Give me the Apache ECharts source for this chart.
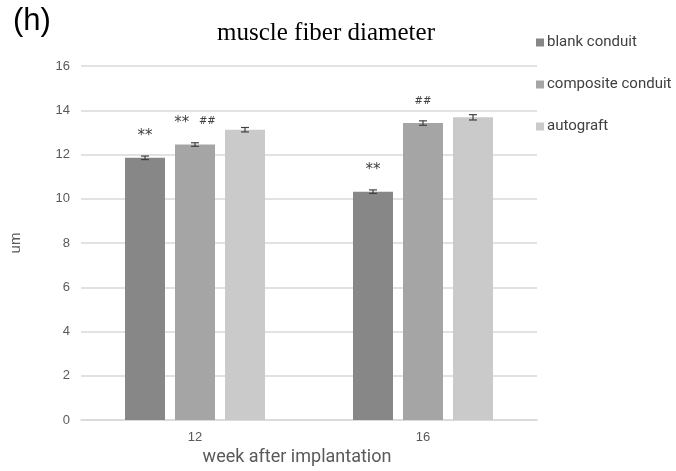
<!DOCTYPE html>
<html>
<head>
<meta charset="utf-8">
<script src="https://cdn.jsdelivr.net/npm/echarts@6/dist/echarts.min.js"></script>
<style>
  html, body { margin: 0; padding: 0; background: #fff; }
  #chart { width: 676px; height: 471px; }
</style>
</head>
<body>
<div id="chart"></div>
<script>
let weeks = ['12', '16'];
let series_names = ['blank conduit', 'composite conduit', 'autograft'];
let blank_values = [11.85, 10.32];
let composite_values = [12.45, 13.42];
let autograft_values = [13.12, 13.68];
let blank_errors = [0.08, 0.08];
let composite_errors = [0.08, 0.1];
let autograft_errors = [0.1, 0.12];
let blank_marks = ['**', '**'];
let composite_marks = ['**  {s|##}', '{s|##}'];
let autograft_marks = ['', ''];

let colors = ['#878787', '#a5a5a5', '#cacaca'];
let bar_width = 40;
let bar_gap = 10;

let chart = echarts.init(document.getElementById('chart'));

function bar_series(name, values, marks) {
    return {
        name: name,
        type: 'bar',
        barWidth: bar_width,
        barGap: '25%',
        data: values,
        label: {
            show: true,
            position: 'top',
            distance: 14,
            color: '#404040',
            fontSize: 15,
            fontFamily: 'DejaVu Sans',
            formatter: function (p) { return marks[p.dataIndex]; },
            rich: { s: { fontSize: 10, color: '#404040', fontFamily: 'DejaVu Sans', padding: [0, 0, 3, 0] } }
        },
        z: 2
    };
}

function error_series(index, values, errors) {
    return {
        type: 'custom',
        name: series_names[index] + ' error',
        data: values.map(function (v, i) { return [i, v, errors[i]]; }),
        renderItem: function (params, api) {
            let ci = api.value(0);
            let v = api.value(1);
            let e = api.value(2);
            let offset = (index - 1) * (bar_width + bar_gap);
            let hi = api.coord([ci, v + e]);
            let lo = api.coord([ci, v - e]);
            let x = hi[0] + offset;
            let style = { stroke: '#404040', lineWidth: 1.2 };
            return {
                type: 'group',
                children: [
                    { type: 'line', shape: { x1: x, y1: hi[1], x2: x, y2: lo[1] }, style: style },
                    { type: 'line', shape: { x1: x - 4, y1: hi[1], x2: x + 4, y2: hi[1] }, style: style },
                    { type: 'line', shape: { x1: x - 4, y1: lo[1], x2: x + 4, y2: lo[1] }, style: style }
                ]
            };
        },
        z: 3,
        silent: true
    };
}

let options = {
    animation: false,
    color: colors,
    title: [
        {
            text: 'muscle fiber diameter',
            left: 321,
            top: 16,
            textAlign: 'center',
            textStyle: { fontFamily: 'Liberation Serif', fontSize: 25, fontWeight: 'normal', color: '#000' }
        },
        {
            text: '(h)',
            left: 8,
            top: 1,
            textStyle: { fontFamily: 'Liberation Sans', fontSize: 31, fontWeight: 'normal', color: '#000' }
        }
    ],
    legend: {
        data: series_names,
        orient: 'vertical',
        left: 531,
        top: 30,
        itemWidth: 8,
        itemHeight: 8,
        itemGap: 27,
        icon: 'rect',
        textStyle: { fontSize: 15, color: '#404040', fontFamily: 'Roboto', padding: [0, 0, 0, -2] }
    },
    grid: {
        left: 81,
        right: 139,
        top: 66,
        bottom: 51,
        outerBoundsMode: 'none',
        containLabel: false
    },
    xAxis: {
        type: 'category',
        data: weeks,
        name: 'week after implantation',
        nameLocation: 'middle',
        nameGap: 28,
        nameTextStyle: { fontSize: 18, color: '#595959', fontFamily: 'Roboto', padding: [0, 24, 0, 0] },
        axisLine: { lineStyle: { color: '#d9d9d9', width: 1.5 } },
        axisTick: { show: false },
        axisLabel: { color: '#595959', fontSize: 13, margin: 11 }
    },
    yAxis: {
        type: 'value',
        min: 0,
        max: 16,
        interval: 2,
        name: 'um',
        nameLocation: 'middle',
        nameGap: 58,
        nameRotate: 90,
        nameTextStyle: { fontSize: 15, color: '#595959' },
        axisLabel: { color: '#595959', fontSize: 13, margin: 11 },
        splitLine: { lineStyle: { color: '#d9d9d9', width: 1.5 } }
    },
    series: [
        bar_series(series_names[0], blank_values, blank_marks),
        bar_series(series_names[1], composite_values, composite_marks),
        bar_series(series_names[2], autograft_values, autograft_marks),
        error_series(0, blank_values, blank_errors),
        error_series(1, composite_values, composite_errors),
        error_series(2, autograft_values, autograft_errors)
    ]
};

chart.setOption(options);
</script>
</body>
</html>
